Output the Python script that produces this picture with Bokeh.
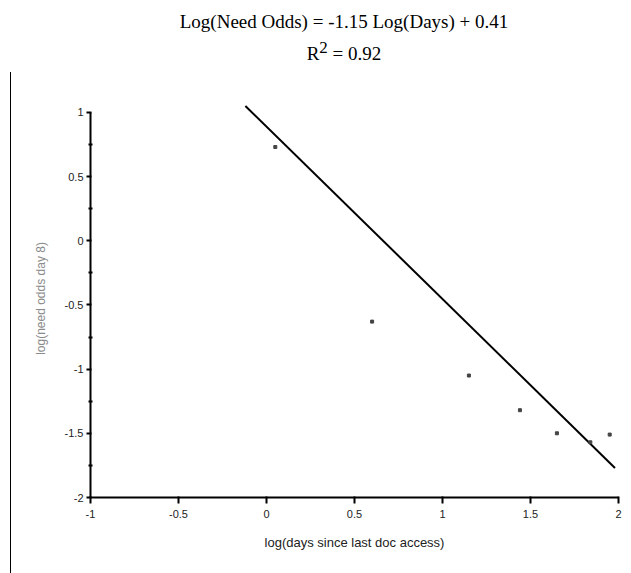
from bokeh.plotting import figure
from bokeh.models import FixedTicker, Div
from bokeh.layouts import row, column
from bokeh.embed import file_html
from bokeh.resources import INLINE

# Data
log_days = [0.05, 0.60, 1.15, 1.44, 1.65, 1.84, 1.95]
log_need_odds = [0.73, -0.63, -1.05, -1.32, -1.50, -1.57, -1.51]
fit_x = [-0.12, 1.98]
fit_y = [1.05, -1.77]
x_ticks = [-1, -0.5, 0, 0.5, 1, 1.5, 2]
y_ticks = [-2, -1.5, -1, -0.5, 0, 0.5, 1]
y_minor = [-1.75, -1.25, -0.75, -0.25, 0.25, 0.75]
title_line1 = "Log(Need Odds) = -1.15 Log(Days) + 0.41"
r2_value = "0.92"
x_label = "log(days since last doc access)"
y_label = "log(need odds day 8)"

p = figure(width=620, height=501, x_range=(-1, 2.0), y_range=(-2, 1.1),
           output_backend="svg", toolbar_location=None,
           min_border_left=79, min_border_right=13, min_border_top=27, min_border_bottom=76)
p.outline_line_color = None
p.xgrid.visible = False
p.ygrid.visible = False
p.background_fill_color = "white"
p.border_fill_color = "white"

p.line(fit_x, fit_y, line_color="black", line_width=2)
p.scatter(log_days, log_need_odds, size=3, marker="square", color="#444444")

for ax in (p.xaxis[0], p.yaxis[0]):
    ax.axis_line_width = 2
    ax.axis_line_color = "black"
    ax.major_tick_line_width = 2
    ax.major_tick_line_color = "black"
    ax.minor_tick_line_width = 2
    ax.minor_tick_line_color = "black"
    ax.major_label_text_font = "Liberation Sans"
    ax.major_label_text_font_size = "11px"
    ax.major_label_text_color = "#222222"

p.xaxis[0].ticker = FixedTicker(ticks=x_ticks, minor_ticks=[])
p.xaxis[0].major_label_overrides = {t: f"{t:g}" for t in x_ticks}
p.xaxis[0].major_tick_out = 6
p.xaxis[0].major_tick_in = 1
p.xaxis[0].major_label_standoff = 6
p.xaxis[0].axis_label = x_label
p.xaxis[0].axis_label_text_font = "Liberation Sans"
p.xaxis[0].axis_label_text_font_size = "13px"
p.xaxis[0].axis_label_text_font_style = "normal"
p.xaxis[0].axis_label_text_color = "#222222"
p.xaxis[0].axis_label_standoff = 14

p.yaxis[0].ticker = FixedTicker(ticks=y_ticks, minor_ticks=y_minor)
p.yaxis[0].bounds = (-2, 1)
p.yaxis[0].major_label_overrides = {t: f"{t:g}" for t in y_ticks}
p.yaxis[0].major_tick_out = 4
p.yaxis[0].major_tick_in = 1
p.yaxis[0].minor_tick_out = 2
p.yaxis[0].minor_tick_in = 2
p.yaxis[0].major_label_standoff = 3
p.yaxis[0].axis_label = y_label
p.yaxis[0].axis_label_text_font = "Liberation Sans"
p.yaxis[0].axis_label_text_font_size = "12px"
p.yaxis[0].axis_label_text_font_style = "normal"
p.yaxis[0].axis_label_text_color = "#8a8a8a"
p.yaxis[0].axis_label_standoff = 14

title = Div(
    text=(f"<div>{title_line1}</div>"
          f"<div>R<sup style='font-size:17px;line-height:0'>2</sup> = {r2_value}</div>"),
    width=570, height=72, margin=(0, 0, 0, 59),
    styles={"font-family": "Liberation Serif", "font-size": "19px", "line-height": "32px",
            "text-align": "center", "padding-top": "6px", "color": "black"})

spacer = Div(width=10, height=501, margin=(0, 0, 0, 0))
border = Div(width=1, height=501, margin=(0, 0, 0, 0), styles={"background-color": "black"})
layout = column(title, row(spacer, border, p, spacing=0), spacing=0)

open("out.html", "w").write(file_html(layout, INLINE))
